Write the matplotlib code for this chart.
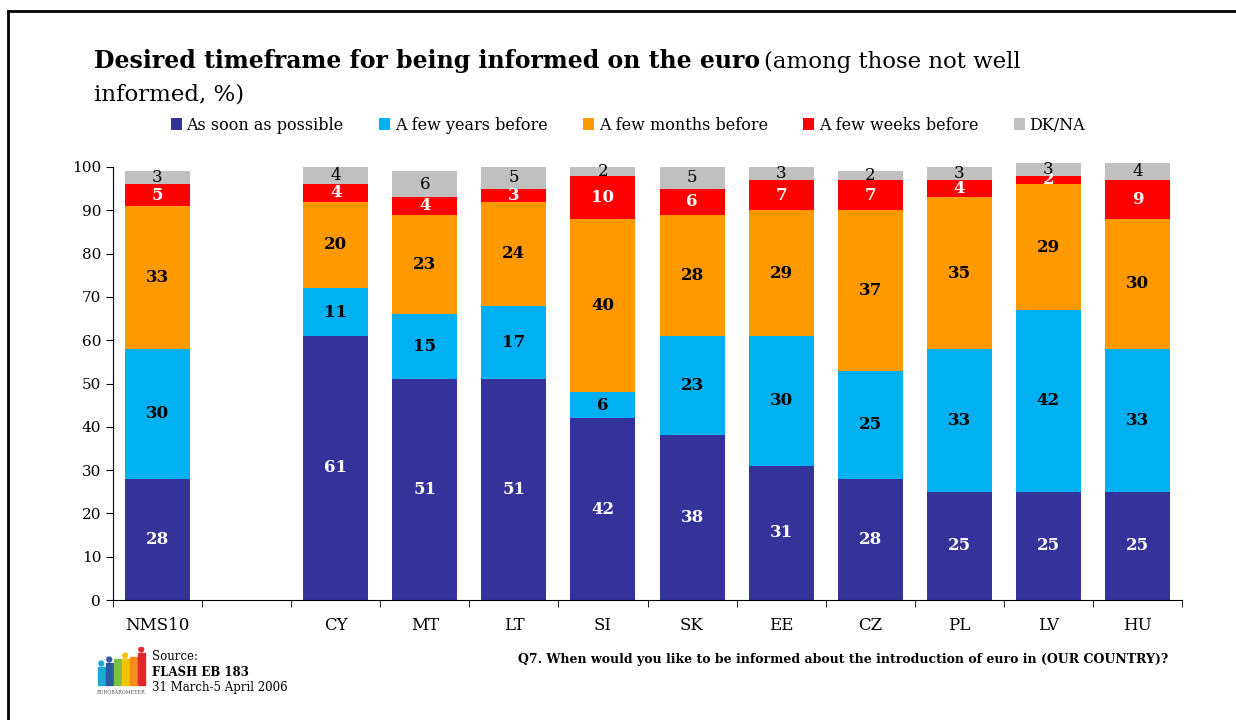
import numpy as np
import matplotlib.pyplot as plt
from matplotlib.lines import Line2D
from matplotlib.patches import Rectangle, Circle

plt.rcParams['font.family'] = ['DejaVu Serif']

# data
countries = ['NMS10', '', 'CY', 'MT', 'LT', 'SI', 'SK', 'EE', 'CZ', 'PL', 'LV', 'HU']
asap = [28, 0, 61, 51, 51, 42, 38, 31, 28, 25, 25, 25]
years = [30, 0, 11, 15, 17, 6, 23, 30, 25, 33, 42, 33]
months = [33, 0, 20, 23, 24, 40, 28, 29, 37, 35, 29, 30]
weeks = [5, 0, 4, 4, 3, 10, 6, 7, 7, 4, 2, 9]
dkna = [3, 0, 4, 6, 5, 2, 5, 3, 2, 3, 3, 4]

series = [asap, years, months, weeks, dkna]
names = ['As soon as possible', 'A few years before', 'A few months before',
         'A few weeks before', 'DK/NA']
colors = ['#333399', '#00B0F0', '#FF9900', '#FF0000', '#C0C0C0']
txt_col = ['white', 'black', 'black', 'white', 'black']
txt_wt = ['bold', 'bold', 'bold', 'bold', 'normal']

fig = plt.figure(figsize=(12.36, 7.2), dpi=100)
ax = fig.add_axes([113/1236, 1-600/720, (1182-113)/1236, (600-167)/720])

x = np.arange(len(countries))
bottom = np.zeros(len(countries))
for vals, nm, c, tc, tw in zip(series, names, colors, txt_col, txt_wt):
    vals = np.array(vals, dtype=float)
    ax.bar(x, vals, 0.73, bottom=bottom, color=c, label=nm, clip_on=False)
    for xi, v, b in zip(x, vals, bottom):
        if v > 0:
            ax.text(xi, b + v/2, str(int(v)), ha='center', va='center',
                    color=tc, fontweight=tw, fontsize=12)
    bottom += vals

ax.set_xlim(-0.5, len(countries) - 0.5)
ax.set_ylim(0, 100)
ax.set_yticks(range(0, 101, 10))
ax.tick_params(axis='y', labelsize=11, length=5, direction='out')
ax.set_xticks(x)
ax.set_xticklabels(countries, fontsize=12)
ax.set_xticks(np.arange(-0.5, len(countries)), minor=True)
ax.tick_params(axis='x', which='major', length=0, pad=12)
ax.tick_params(axis='x', which='minor', length=5, direction='out')
for s in ['top', 'right']:
    ax.spines[s].set_visible(False)

# title
t1 = fig.text(94/1236, 1-68/720, 'Desired timeframe for being informed on the euro',
              fontsize=17, fontweight='bold', va='baseline')
fig.canvas.draw()
bb = t1.get_window_extent()
fig.text(bb.x1/1236 + 0.003, 1-68/720, '(among those not well', fontsize=16.5, va='baseline')
fig.text(94/1236, 1-101/720, 'informed, %)', fontsize=16.5, va='baseline')

fig.legend(loc='center', bbox_to_anchor=(0.508, 1-125/720), ncol=5, frameon=False,
           fontsize=11.5, handlelength=0.7, handleheight=0.7, handletextpad=0.3,
           columnspacing=2.2)

# footer
fig.text(152/1236, 1-657/720, 'Source:', fontsize=8.5, va='center')
fig.text(152/1236, 1-672/720, 'FLASH EB 183', fontsize=8.5, va='center', fontweight='bold')
fig.text(152/1236, 1-687/720, '31 March-5 April 2006', fontsize=8.5, va='center')
fig.text(1168/1236, 1-660/720,
         'Q7. When would you like to be informed about the introduction of euro in (OUR COUNTRY)?',
         fontsize=9, fontweight='bold', ha='right', va='center')

# eurobarometer logo
lax = fig.add_axes([90/1236, 1-697/720, 62/1236, 50/720])
lax.set_xlim(0, 62)
lax.set_ylim(0, 50)
lax.axis('off')
logo_x = [8, 16, 24, 32, 40, 48]
logo_h = [18, 22, 26, 26, 28, 32]
logo_c = ['#1BA9D6', '#2C5AA0', '#7AC143', '#F4C300', '#F68B1F', '#E3262E']
logo_dot = [True, True, False, True, False, True]
for lx, lh, lc, ld in zip(logo_x, logo_h, logo_c, logo_dot):
    lax.add_patch(Rectangle((lx, 12), 6.5, lh, color=lc))
    if ld:
        lax.add_patch(Circle((lx + 3.25, 12 + lh + 3.5), 2.4, color=lc))
lax.text(31, 4, 'EUROBAROMETER', fontsize=3.5, ha='center', va='center', color='#555555')

# frame
fig.add_artist(Line2D([8/1236, 1], [1-11/720, 1-11/720], color='black', lw=2))
fig.add_artist(Line2D([8/1236, 8/1236], [0, 1-11/720], color='black', lw=2))

fig.savefig('out.png', dpi=100)
